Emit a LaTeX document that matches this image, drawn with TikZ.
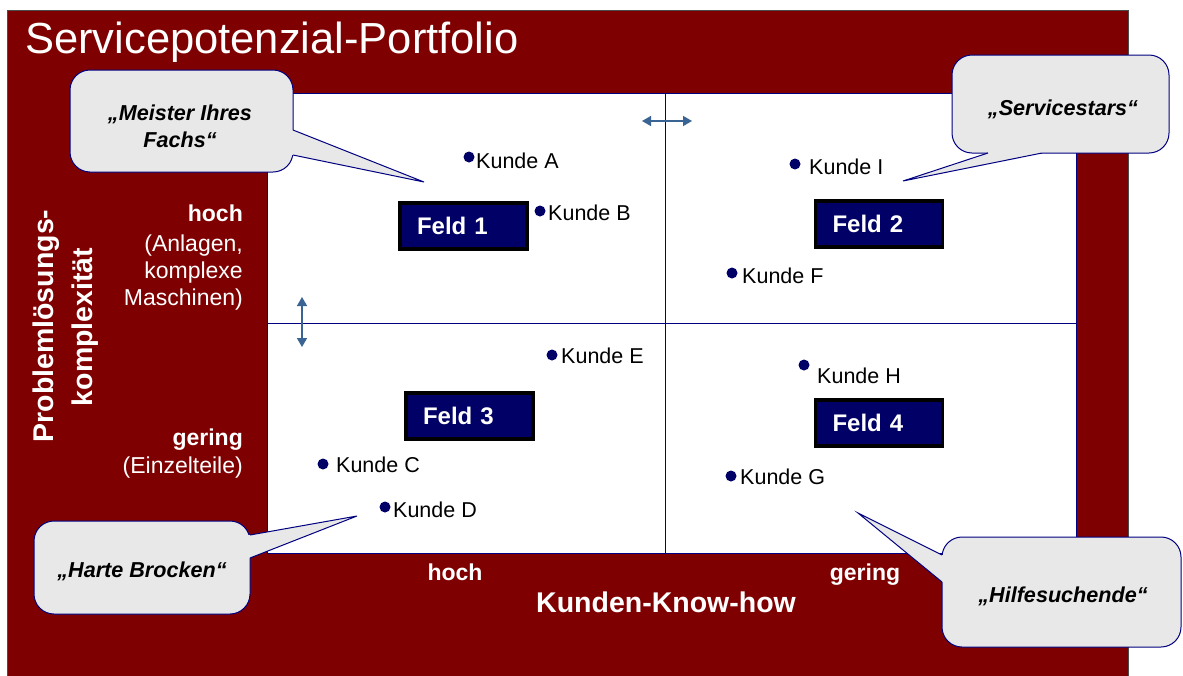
\documentclass[tikz,border=0pt]{standalone}
\usepackage{fontspec}
\setmainfont{Liberation Sans}
\usetikzlibrary{calc,arrows.meta}
\definecolor{dred}{HTML}{7F0000}
\definecolor{navy}{HTML}{000066}
\definecolor{lnavy}{HTML}{000080}
\definecolor{cfill}{HTML}{E8E8E8}
\definecolor{steel}{HTML}{3A6493}
\newcommand{\fsz}[1]{\fontsize{#1}{#1}\selectfont}
\begin{document}
\begin{tikzpicture}[x=1pt,y=-1pt,
  feldbox/.style={draw=black, line width=3.5pt, fill=navy, minimum width=127pt, minimum height=46pt, inner sep=0pt, text width=93pt, align=left, text=white, font=\bfseries\fsz{24}},
  kdot/.style={circle, fill=navy, inner sep=0pt, minimum size=11pt},
  kundelab/.style={anchor=base west, inner sep=0pt, font=\fsz{21.5}},
  callbox/.style={draw=lnavy, fill=cfill, line width=1pt, rounded corners=20pt, inner sep=0pt},
  calltext/.style={anchor=base, inner sep=0pt, font=\bfseries\itshape\fsz{21.6}},
  axlab/.style={anchor=base east, inner sep=0pt, text=white, font=\fsz{23}},
  axlabb/.style={inner sep=0pt, text=white, font=\bfseries\fsz{23}},
  biglab/.style={anchor=base, inner sep=0pt, text=white, font=\bfseries\fsz{28.5}},
  dblarrow/.style={steel, line width=1.5pt, {Triangle[width=10pt,length=9pt]}-{Triangle[width=10pt,length=9pt]}},
  ptrline/.style={draw=lnavy, line width=1pt, line join=miter},
]
\useasboundingbox (0,0) rectangle (1183,675);
\fill[white] (0,0) rectangle (1183,675);
% frame
\draw[fill=dred, draw=black!70, line width=0.8pt] (7,10) rectangle (1128,678);
\draw[fill=white, draw=lnavy, line width=1pt] (267,93) rectangle (1076,553);
% mid lines
\coordinate (vt) at (665,93); \coordinate (vb) at (665,553);
\coordinate (hl) at (267,323); \coordinate (hr) at (1076,323);
\draw[lnavy, line width=1pt] (vt) -- (vb);
\draw[lnavy, line width=1pt] (hl) -- (hr);
% double arrows
\coordinate (ha1) at (642,121); \coordinate (ha2) at (692,121);
\draw[dblarrow] (ha1) -- (ha2);
\coordinate (va1) at (302,297); \coordinate (va2) at (302,347);
\draw[dblarrow] (va1) -- (va2);
% title
\node[anchor=base west, inner sep=0pt, text=white, font=\fsz{43.5}] (title) at (25,53) {Servicepotenzial-Portfolio};
% fields
\node[feldbox] (f1) at (463.5,226) {Feld 1};
\node[feldbox] (f2) at (879,224) {Feld 2};
\node[feldbox] (f3) at (469.5,416) {Feld 3};
\node[feldbox] (f4) at (879,423) {Feld 4};
% customers
\node[kdot] (dA) at (469,157) {}; \node[kundelab] (kA) at (476,168) {Kunde A};
\node[kdot] (dB) at (540,211) {}; \node[kundelab] (kB) at (548,220) {Kunde B};
\node[kdot] (dI) at (795,164) {}; \node[kundelab] (kI) at (809,174) {Kunde I};
\node[kdot] (dF) at (732,273) {}; \node[kundelab] (kF) at (742,283) {Kunde F};
\node[kdot] (dE) at (552,355) {}; \node[kundelab] (kE) at (561,363) {Kunde E};
\node[kdot] (dH) at (804,365) {}; \node[kundelab] (kH) at (817,383) {Kunde H};
\node[kdot] (dC) at (323,464) {}; \node[kundelab] (kC) at (336,472) {Kunde C};
\node[kdot] (dD) at (385,507) {}; \node[kundelab] (kD) at (393,517) {Kunde D};
\node[kdot] (dG) at (731,476) {}; \node[kundelab] (kG) at (740,484) {Kunde G};
% axis labels
\node[axlabb, anchor=base east] (yh) at (243,221) {hoch};
\node[axlab] (yh1) at (243,251) {(Anlagen,};
\node[axlab] (yh2) at (243,278) {komplexe};
\node[axlab] (yh3) at (243,305) {Maschinen)};
\node[axlabb, anchor=base east] (yg) at (243,445) {gering};
\node[axlab] (yg1) at (243,473) {(Einzelteile)};
\node[biglab, rotate=90] (yl1) at (53,326) {Problemlösungs-};
\node[biglab, rotate=90] (yl2) at (92,327) {komplexität};
\node[axlabb, anchor=base] (xh) at (455,580) {hoch};
\node[axlabb, anchor=base] (xg) at (865,580) {gering};
\node[biglab] (xl) at (666,612) {Kunden-Know-how};
% callout: Meister Ihres Fachs
\node[callbox, minimum width=223pt, minimum height=102pt] (mbox) at (181.5,121) {};
\coordinate (m1) at (293,130); \coordinate (m2) at (293,155); \coordinate (mt) at (424,182);
\fill[cfill] ($(m1)+(-3,0)$) -- (m1) -- (mt) -- (m2) -- ($(m2)+(-3,0)$) -- cycle;
\draw[ptrline] (m1) -- (mt) -- (m2);
\node[calltext] (mtx1) at (180,120) {„Meister Ihres};
\node[calltext] (mtx2) at (180,147) {Fachs“};
% callout: Servicestars
\node[callbox, minimum width=217pt, minimum height=98pt] (sbox) at (1060.5,104) {};
\coordinate (s1) at (988,153); \coordinate (s2) at (1042,153); \coordinate (st) at (903,181);
\fill[cfill] ($(s1)+(0,-3)$) -- (s1) -- (st) -- (s2) -- ($(s2)+(0,-3)$) -- cycle;
\draw[ptrline] (s1) -- (st) -- (s2);
\node[calltext] (stx) at (1063,115) {„Servicestars“};
% callout: Harte Brocken
\node[callbox, minimum width=216pt, minimum height=93pt] (hbox) at (142,567.5) {};
\coordinate (h1) at (250,535); \coordinate (h2) at (250,558); \coordinate (ht) at (357,516);
\fill[cfill] ($(h1)+(-3,0)$) -- (h1) -- (ht) -- (h2) -- ($(h2)+(-3,0)$) -- cycle;
\draw[ptrline] (h1) -- (ht) -- (h2);
\node[calltext] (htx) at (142,577) {„Harte Brocken“};
% callout: Hilfesuchende
\node[callbox, minimum width=239pt, minimum height=110pt] (gbox) at (1061.5,592) {};
\coordinate (g1) at (942,555); \coordinate (g2) at (942,582); \coordinate (gt) at (858,513);
\fill[cfill] ($(g1)+(3,0)$) -- (g1) -- (gt) -- (g2) -- ($(g2)+(3,0)$) -- cycle;
\draw[ptrline] (g1) -- (gt) -- (g2);
\node[calltext] (gtx) at (1063,602) {„Hilfesuchende“};
\end{tikzpicture}
\end{document}
